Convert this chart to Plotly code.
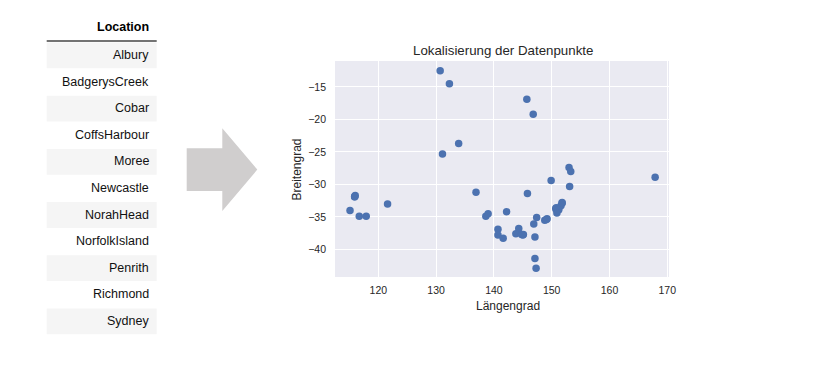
import plotly.graph_objects as go

# ---------------- data ----------------
table_header = "Location"
table_locations = ["Albury", "BadgerysCreek", "Cobar", "CoffsHarbour", "Moree",
                   "Newcastle", "NorahHead", "NorfolkIsland", "Penrith",
                   "Richmond", "Sydney"]

point_names = ["Darwin", "Katherine", "Cairns", "Townsville", "AliceSprings", "Uluru",
               "Brisbane", "GoldCoast", "CoffsHarbour", "NorfolkIsland", "Moree", "Cobar",
               "Woomera", "Perth", "PearceRAAF", "PerthAirport", "Witchcliffe", "Walpole",
               "Albany", "SalmonGums", "Adelaide", "Nuriootpa", "Mildura", "Nhil",
               "MountGambier", "Portland", "Bendigo", "Ballarat", "Melbourne",
               "MelbourneAirport", "Watsonia", "Sale", "Launceston", "Hobart", "Albury",
               "WaggaWagga", "MountGinini", "Tuggeranong", "Canberra", "Penrith",
               "BadgerysCreek", "Richmond", "Sydney", "SydneyAirport", "NorahHead",
               "Newcastle", "Williamtown", "Wollongong"]
longitude = [130.7, 132.3, 145.7, 146.8, 133.9, 131.1,
             153.0, 153.3, 153.1, 167.9, 149.9, 145.8,
             136.9, 115.9, 116.0, 115.9, 115.1, 116.7,
             117.9, 121.6, 138.6, 139.0, 142.2, 140.7,
             140.7, 141.6, 144.3, 143.8, 145.0,
             144.8, 145.1, 147.1, 147.1, 147.3, 146.9,
             147.4, 148.8, 149.1, 149.2, 150.7,
             150.8, 150.8, 151.2, 151.2, 151.6,
             151.8, 151.8, 150.9]
latitude = [-12.5, -14.5, -16.9, -19.2, -23.7, -25.3,
            -27.4, -28.0, -30.3, -28.9, -29.4, -31.4,
            -31.2, -31.9, -31.7, -31.9, -34.0, -34.9,
            -34.9, -33.0, -34.9, -34.5, -34.2, -36.9,
            -37.8, -38.3, -36.8, -37.6, -37.8,
            -37.7, -37.7, -38.1, -41.4, -42.9, -36.1,
            -35.1, -35.5, -35.4, -35.3, -33.7,
            -33.9, -33.6, -33.9, -33.9, -33.3,
            -32.9, -32.8, -34.4]

x_ticks = [120, 130, 140, 150, 160, 170]
y_ticks = [-15, -20, -25, -30, -35, -40]

title_text = "Lokalisierung der Datenpunkte"
x_label = "Längengrad"
y_label = "Breitengrad"

# ---------------- layout geometry (window pixels) ----------------
OFF = 8                      # page body margin of the html page
W, H = 801, 360              # figure size (fits inside the window)
PL, PR, PT, PB = 335, 669, 61, 277   # plot area edges in window pixels
FONT = "Liberation Sans, Arial, sans-serif"


def fx(px):
    return (px - PL) / (PR - PL)


def fy(py):
    return (PB - py) / (PB - PT)


fig = go.Figure()
fig.add_trace(go.Scatter(
    x=longitude, y=latitude, mode="markers", text=point_names,
    marker=dict(color="#4C72B0", size=7.5, line=dict(width=0)),
    showlegend=False,
))

shapes = []
annotations = []

# table stripes
row_top0, row_h = 41.7, 26.6
for i, name in enumerate(table_locations):
    top = row_top0 + row_h * i
    if i % 2 == 0:
        shapes.append(dict(type="rect", xref="paper", yref="paper",
                           x0=fx(46.7), x1=fx(156.7), y0=fy(top + row_h), y1=fy(top + 0.8),
                           fillcolor="#f5f5f5", line=dict(width=0), layer="below"))
    annotations.append(dict(xref="paper", yref="paper", x=fx(151), y=fy(top + row_h / 2),
                            text=name, showarrow=False, xanchor="right", yanchor="middle",
                            font=dict(family=FONT, size=12.5, color="#111111")))
# header
annotations.append(dict(xref="paper", yref="paper", x=fx(151), y=fy(27),
                        text="<b>%s</b>" % table_header, showarrow=False,
                        xanchor="right", yanchor="middle",
                        font=dict(family=FONT, size=12.5, color="#000000")))
shapes.append(dict(type="line", xref="paper", yref="paper",
                   x0=fx(46.7), x1=fx(156.7), y0=fy(41), y1=fy(41),
                   line=dict(color="#444444", width=1.3)))

# arrow
pts = [(186.7, 148.3), (222.3, 148.3), (222.3, 128.3), (257.3, 169.6),
       (222.3, 211), (222.3, 191), (186.7, 191)]
path = "M " + " L ".join("%f,%f" % (fx(a), fy(b)) for a, b in pts) + " Z"
shapes.append(dict(type="path", xref="paper", yref="paper", path=path,
                   fillcolor="#d0cece", line=dict(width=0)))

# title and axis labels
annotations.append(dict(xref="paper", yref="paper", x=fx(502.5), y=fy(50.5),
                        text=title_text, showarrow=False, xanchor="center", yanchor="middle",
                        font=dict(family=FONT, size=13.3, color="#262626")))
annotations.append(dict(xref="paper", yref="paper", x=fx(508), y=fy(306),
                        text=x_label, showarrow=False, xanchor="center", yanchor="middle",
                        font=dict(family=FONT, size=12, color="#262626")))
annotations.append(dict(xref="paper", yref="paper", x=fx(296.5), y=fy(170),
                        text=y_label, showarrow=False, xanchor="center", yanchor="middle",
                        textangle=-90,
                        font=dict(family=FONT, size=12, color="#262626")))

fig.update_layout(
    width=W, height=H,
    margin=dict(l=PL - OFF, r=W - (PR - OFF), t=PT - OFF, b=H - (PB - OFF), pad=0),
    paper_bgcolor="white", plot_bgcolor="#EAEAF2",
    shapes=shapes, annotations=annotations,
    font=dict(family=FONT, color="#262626"),
    xaxis=dict(range=[112.5, 170.3], tickvals=x_ticks, ticks="", showline=False,
               zeroline=False, gridcolor="white", gridwidth=1,
               tickfont=dict(family=FONT, size=10.5, color="#262626"),
               ticklabelstandoff=5),
    yaxis=dict(range=[-44.25, -11.0], tickvals=y_ticks, ticks="", showline=False,
               zeroline=False, gridcolor="white", gridwidth=1,
               tickfont=dict(family=FONT, size=10.5, color="#262626"),
               ticklabelstandoff=8),
)

fig.write_html("out.html")
